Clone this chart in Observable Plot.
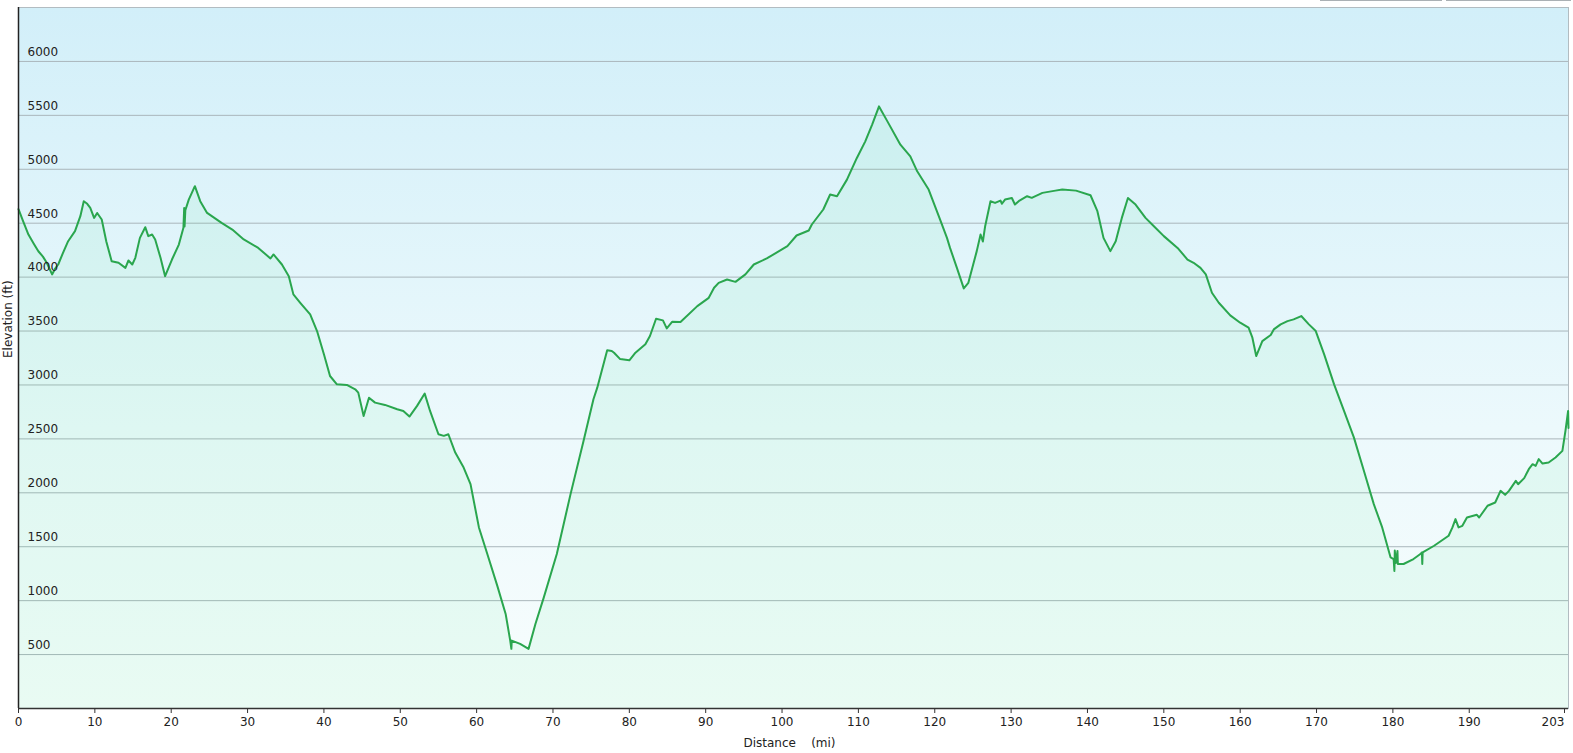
<!DOCTYPE html>
<html>
<head>
<meta charset="utf-8">
<script src="https://cdn.jsdelivr.net/npm/d3@7"></script>
<script src="https://cdn.jsdelivr.net/npm/@observablehq/plot@0.6"></script>
<style>
  html, body { margin: 0; padding: 0; background: #ffffff; }
  #wrap { position: relative; width: 1573px; height: 753px; overflow: hidden; }
  .tab { position: absolute; top: -20px; height: 20px; border: 1px solid #aab0b4; border-top: none; background: #fff; }
  svg text { white-space: pre; }
</style>
</head>
<body>
<div id="wrap">
  <div class="tab" style="left:1320px; width:120px;"></div>
  <div class="tab" style="left:1446px; width:123px;"></div>
</div>
<script>
// Distance along the route (mi)
const miles = [
  0, 0.6, 1.3, 2.0, 2.6, 3.2, 3.7, 4.4, 4.8, 5.2, 5.8, 6.5, 7.4, 8.1, 8.55, 9.0, 9.4, 9.9, 10.3, 10.9,
  11.5, 12.2, 13.1, 14.0, 14.4, 14.9, 15.3, 15.9, 16.6, 17.0, 17.5, 17.9, 18.6, 19.2, 20.1, 21.0, 21.6, 21.7, 21.75, 21.85,
  22.3, 23.1, 23.8, 24.7, 26.6, 28.0, 29.5, 31.4, 33.0, 33.4, 34.5, 35.4, 36.0, 36.9, 38.2, 39.1, 40.0, 40.8, 41.7, 43.0,
  44.1, 44.5, 45.2, 45.9, 46.7, 48.0, 49.6, 50.4, 51.2, 52.2, 53.2, 53.9, 55.0, 55.7, 56.3, 57.2, 58.3, 59.2, 60.3, 61.4,
  62.7, 63.8, 64.4, 64.55, 64.6, 65.7, 66.8, 67.7, 68.8, 70.5, 72.3, 74.0, 75.3, 75.8, 77.1, 77.7, 78.0, 78.8, 80.0, 80.8,
  82.1, 82.7, 83.5, 84.4, 84.9, 85.6, 86.7, 88.9, 90.4, 91.1, 91.7, 92.8, 93.9, 95.2, 96.3, 98.0, 100.7, 101.9, 103.5, 103.9,
  105.4, 106.3, 107.2, 108.5, 109.8, 110.9, 111.8, 112.7, 113.8, 115.5, 116.8, 117.7, 119.2, 120.7, 121.6, 122.0, 122.9, 123.8, 124.4, 125.5,
  126.0, 126.3, 126.6, 127.3, 127.9, 128.6, 128.8, 129.2, 130.1, 130.5, 131.1, 132.1, 132.7, 134.1, 135.8, 136.7, 138.5, 140.4, 141.3, 142.1,
  143.0, 143.7, 144.5, 145.3, 146.3, 147.6, 148.7, 150.0, 151.8, 153.1, 153.9, 154.8, 155.5, 156.3, 157.2, 158.7, 160.0, 161.1, 161.6, 162.1,
  162.9, 164.0, 164.4, 165.3, 166.2, 167.0, 168.0, 169.0, 169.9, 171.0, 172.3, 173.6, 174.9, 176.2, 177.5, 178.6, 179.7, 180.1, 180.2, 180.25,
  180.4, 180.6, 180.65, 181.4, 182.7, 183.6, 183.8, 183.85, 183.9, 185.4, 187.3, 187.8, 188.2, 188.6, 189.1, 189.7, 191.0, 191.3, 192.4, 193.4,
  194.1, 194.7, 195.2, 196.1, 196.4, 197.2, 197.8, 198.3, 198.7, 199.1, 199.6, 200.4, 201.3, 202.2, 202.6, 202.95, 203.0
];
// Elevation (ft)
const elevation = [
  4630, 4520, 4395, 4310, 4240, 4190, 4133, 4025, 4080, 4117, 4220, 4333, 4426, 4565, 4704, 4680, 4642, 4549, 4595, 4534,
  4330, 4148, 4133, 4086, 4154, 4117, 4179, 4364, 4463, 4380, 4395, 4349, 4179, 4009, 4163, 4302, 4457, 4640, 4470, 4620,
  4719, 4843, 4704, 4595, 4503, 4441, 4349, 4271, 4173, 4210, 4117, 4009, 3840, 3762, 3654, 3500, 3284, 3083, 3006, 3000,
  2960, 2929, 2713, 2882, 2836, 2815, 2775, 2759, 2707, 2806, 2920, 2759, 2543, 2528, 2543, 2373, 2234, 2080, 1679, 1432,
  1139, 877, 630, 553, 630, 599, 553, 784, 1030, 1432, 1988, 2481, 2868, 2975, 3321, 3315, 3299, 3240, 3229, 3299,
  3377, 3454, 3614, 3599, 3525, 3586, 3583, 3731, 3808, 3901, 3947, 3978, 3956, 4025, 4117, 4173, 4287, 4386, 4432, 4488,
  4627, 4766, 4750, 4904, 5105, 5259, 5414, 5583, 5444, 5228, 5120, 4981, 4812, 4534, 4364, 4271, 4086, 3895, 3947, 4241,
  4395, 4330, 4472, 4704, 4688, 4710, 4680, 4719, 4734, 4673, 4710, 4750, 4735, 4781, 4802, 4812, 4802, 4759, 4611, 4364,
  4241, 4333, 4549, 4734, 4673, 4549, 4472, 4380, 4271, 4163, 4133, 4086, 4025, 3855, 3762, 3645, 3577, 3531, 3438, 3268,
  3407, 3463, 3515, 3562, 3592, 3608, 3639, 3562, 3500, 3284, 3006, 2759, 2512, 2204, 1895, 1679, 1401, 1386, 1276, 1464,
  1350, 1460, 1340, 1340, 1386, 1432, 1447, 1340, 1447, 1509, 1602, 1679, 1756, 1679, 1694, 1771, 1796, 1771, 1880, 1910,
  2018, 1981, 2018, 2111, 2080, 2136, 2219, 2265, 2250, 2312, 2271, 2281, 2327, 2389, 2574, 2759, 2600
];
// Axis tick values
const yTicks = [500, 1000, 1500, 2000, 2500, 3000, 3500, 4000, 4500, 5000, 5500, 6000];
const xTicks = [0, 10, 20, 30, 40, 50, 60, 70, 80, 90, 100, 110, 120, 130, 140, 150, 160, 170, 180, 190];
const xEndTick = [203];
const xLabel = "Distance    (mi)";
const yLabel = "Elevation (ft)";

const data = miles.map((m, i) => ({ m, e: elevation[i] }));

const chart = Plot.plot({
  width: 1573,
  height: 753,
  marginLeft: 18,
  marginRight: 5,
  marginTop: 7,
  marginBottom: 45,
  style: { fontFamily: "'DejaVu Sans', Verdana, sans-serif", fontSize: "12px", color: "#222", background: "transparent", overflow: "visible" },
  x: { domain: [0, 203] },
  y: { domain: [0, 6500], axis: null },
  marks: [
    Plot.frame({ fill: "url(#bgGrad)", stroke: "#b2bcc1" }),
    Plot.ruleY(yTicks, { stroke: "#aab6bb", strokeWidth: 1 }),
    Plot.areaY(data, { x: "m", y: "e", fill: "#30dc78", fillOpacity: 0.07 }),
    Plot.line(data, { x: "m", y: "e", stroke: "#2aa64e", strokeWidth: 2 }),
    Plot.text(yTicks, { x: () => 0, y: d => d, text: d => String(d), textAnchor: "start", dx: 9, dy: -9.5, fill: "#222" }),
    Plot.ruleX([0], { stroke: "#222", strokeWidth: 1.5 }),
    Plot.axisX(xTicks, { tickSize: 5, tickPadding: 4, tickFormat: d => String(d), label: null, stroke: "#333", color: "#222" }),
    Plot.axisX(xEndTick, { tickSize: 5, tickPadding: 4, tickFormat: d => String(d), label: null, stroke: "#333", color: "#222", textAnchor: "end", dx: -4 }),
    Plot.ruleY([0], { stroke: "#333", strokeWidth: 1.5 }),
    Plot.text([xLabel], { text: d => d, frameAnchor: "bottom", dy: 38, dx: -4, fill: "#222" }),
    Plot.text([yLabel], { text: d => d, frameAnchor: "left", dx: -10, rotate: -90, fill: "#222" })
  ]
});

const ns = "http://www.w3.org/2000/svg";
const defs = document.createElementNS(ns, "defs");
const grad = document.createElementNS(ns, "linearGradient");
grad.setAttribute("id", "bgGrad");
grad.setAttribute("x1", "0"); grad.setAttribute("y1", "0");
grad.setAttribute("x2", "0"); grad.setAttribute("y2", "1");
[["0%", "#d2eff9"], ["60%", "#ecf9fc"], ["100%", "#f8fdfd"]].forEach(([o, c]) => {
  const s = document.createElementNS(ns, "stop");
  s.setAttribute("offset", o); s.setAttribute("stop-color", c);
  grad.appendChild(s);
});
defs.appendChild(grad);
chart.insertBefore(defs, chart.firstChild);
chart.style.position = "absolute";
chart.style.left = "0px";
chart.style.top = "0px";
document.getElementById("wrap").appendChild(chart);
</script>
</body>
</html>
